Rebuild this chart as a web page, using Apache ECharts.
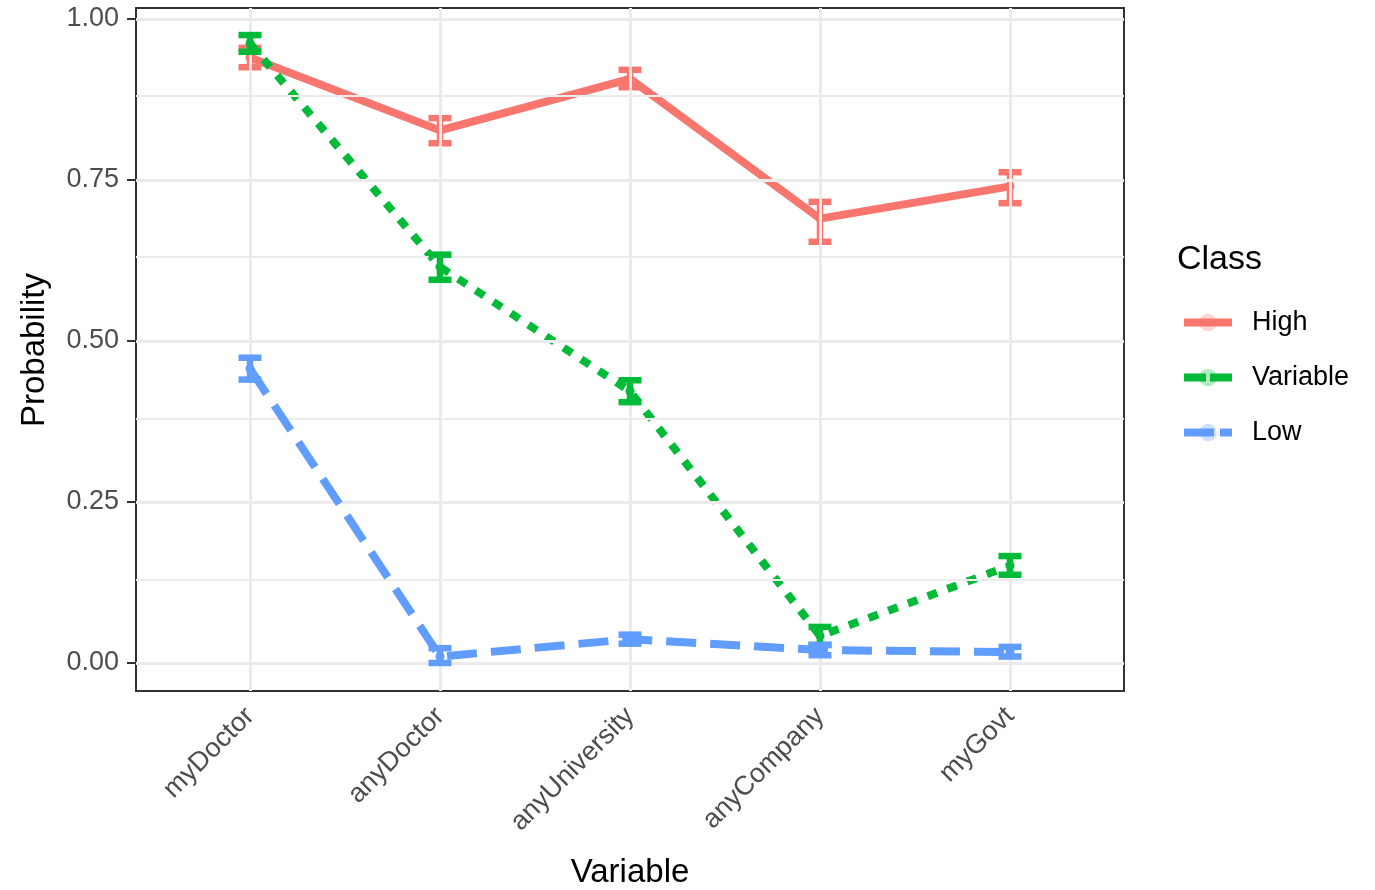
<!DOCTYPE html>
<html>
<head>
<meta charset="utf-8">
<script src="https://cdn.jsdelivr.net/npm/echarts@6/dist/echarts.min.js"></script>
<style>
html,body{margin:0;padding:0;background:#fff;}
#chart{width:1375px;height:890px;}
</style>
</head>
<body>
<div id="chart"></div>
<script>
var categories = ['myDoctor', 'anyDoctor', 'anyUniversity', 'anyCompany', 'myGovt'];
var classes = ['High', 'Variable', 'Low'];
var yTicks = [0, 0.25, 0.5, 0.75, 1];
var yMinorGrid = [0.125, 0.375, 0.625, 0.875];

var highVal = [0.940, 0.827, 0.907, 0.690, 0.740];
var highLo  = [0.925, 0.807, 0.894, 0.654, 0.714];
var highHi  = [0.955, 0.846, 0.921, 0.716, 0.762];

var varVal = [0.962, 0.615, 0.422, 0.042, 0.151];
var varLo  = [0.949, 0.595, 0.405, 0.028, 0.137];
var varHi  = [0.975, 0.634, 0.439, 0.056, 0.166];

var lowVal = [0.457, 0.010, 0.037, 0.020, 0.017];
var lowLo  = [0.440, 0.000, 0.030, 0.012, 0.010];
var lowHi  = [0.474, 0.023, 0.044, 0.028, 0.025];

var colors = ['#F8766D', '#00BA38', '#619CFF'];
var FONT = 'Liberation Sans, Arial, Helvetica, sans-serif';

function pts(vals) { return vals.map(function (v, i) { return [i + 1, v]; }); }
function bars(lo, hi) { return lo.map(function (l, i) { return [i + 1, l, hi[i]]; }); }

function errRender(color) {
  return function (params, api) {
    var x = api.value(0);
    var p1 = api.coord([x, api.value(1)]);
    var p2 = api.coord([x, api.value(2)]);
    var hw = 11.5;
    var st = { stroke: color, lineWidth: 6.5, fill: null };
    return {
      type: 'group',
      children: [
        { type: 'line', shape: { x1: p1[0], y1: p1[1], x2: p2[0], y2: p2[1] }, style: st },
        { type: 'line', shape: { x1: p1[0] - hw, y1: p1[1], x2: p1[0] + hw, y2: p1[1] }, style: st },
        { type: 'line', shape: { x1: p2[0] - hw, y1: p2[1], x2: p2[0] + hw, y2: p2[1] }, style: st }
      ]
    };
  };
}

var gridLines = [];
yTicks.forEach(function (v) { gridLines.push({ yAxis: v, lineStyle: { width: 3 } }); });
yMinorGrid.forEach(function (v) { gridLines.push({ yAxis: v, lineStyle: { width: 2 } }); });
categories.forEach(function (c, i) { gridLines.push({ xAxis: i + 1, lineStyle: { width: 3 } }); });

var lineTypes = ['solid', [10, 11], [30, 14]];
var vals = [highVal, varVal, lowVal];
var los = [highLo, varLo, lowLo];
var his = [highHi, varHi, lowHi];

var series = [{
  name: 'grid',
  type: 'line',
  data: [],
  silent: true,
  z: 0,
  markLine: {
    silent: true,
    symbol: 'none',
    label: { show: false },
    animation: false,
    lineStyle: { color: '#ebebeb', type: 'solid' },
    data: gridLines
  }
}];

classes.forEach(function (c, k) {
  series.push({
    name: c,
    type: 'line',
    data: pts(vals[k]),
    symbol: 'circle',
    symbolSize: 9,
    showSymbol: true,
    itemStyle: { color: colors[k] },
    lineStyle: { color: colors[k], width: 8, type: lineTypes[k], cap: 'butt' },
    z: 2 + k * 2,
    animation: false
  });
  series.push({
    name: c + ' CI',
    type: 'custom',
    data: bars(los[k], his[k]),
    renderItem: errRender(colors[k]),
    z: 3 + k * 2,
    animation: false,
    silent: true
  });
});

var legendData = classes.map(function (c, k) {
  return {
    name: c,
    itemStyle: { color: colors[k], opacity: 0.3 },
    lineStyle: { color: colors[k], width: 8, type: k === 2 ? [30, 6] : (k === 1 ? [22, 4] : 'solid'), opacity: 1 }
  };
});

var chart = echarts.init(document.getElementById('chart'), null, { renderer: 'canvas' });
chart.setOption({
  animation: false,
  backgroundColor: '#ffffff',
  grid: {
    left: 136, right: 251, top: 8, bottom: 199,
    show: true, borderColor: '#333333', borderWidth: 2, backgroundColor: 'transparent'
  },
  xAxis: {
    type: 'value',
    min: 0.4, max: 5.6,
    axisLine: { show: false },
    splitLine: { show: false },
    axisTick: { show: true, customValues: [1, 2, 3, 4, 5], length: 9, lineStyle: { color: '#333333', width: 2 } },
    axisLabel: {
      customValues: [1, 2, 3, 4, 5],
      rotate: 45,
      margin: 21,
      padding: [20, 0, 0, 0],
      color: '#4d4d4d',
      fontSize: 27,
      fontFamily: FONT,
      formatter: function (v) { return categories[Math.round(v) - 1] || ''; }
    }
  },
  yAxis: {
    type: 'value',
    min: -0.0435, max: 1.017,
    axisLine: { show: false },
    splitLine: { show: false },
    axisTick: { show: true, customValues: yTicks, length: 9, lineStyle: { color: '#333333', width: 2 } },
    axisLabel: {
      customValues: yTicks,
      margin: 17,
      color: '#4d4d4d',
      fontSize: 27,
      fontFamily: FONT,
      formatter: function (v) { return v.toFixed(2); }
    }
  },
  legend: {
    data: legendData,
    orient: 'vertical',
    left: 1180,
    top: 309,
    padding: 0,
    itemWidth: 48,
    itemHeight: 22,
    itemGap: 28,
    textStyle: { fontSize: 27, color: '#000000', fontFamily: FONT, padding: [0, 0, 0, 15] },
    selectedMode: false
  },
  graphic: [
    { type: 'text', x: 35, y: 350, rotation: Math.PI / 2,
      style: { text: 'Probability', font: '33px ' + FONT, fill: '#000', textAlign: 'center', textVerticalAlign: 'middle' } },
    { type: 'text', x: 630, y: 873,
      style: { text: 'Variable', font: '33px ' + FONT, fill: '#000', textAlign: 'center', textVerticalAlign: 'middle' } },
    { type: 'text', x: 1177, y: 260,
      style: { text: 'Class', font: '34px ' + FONT, fill: '#000', textAlign: 'left', textVerticalAlign: 'middle' } }
  ],
  series: series
});
</script>
</body>
</html>
